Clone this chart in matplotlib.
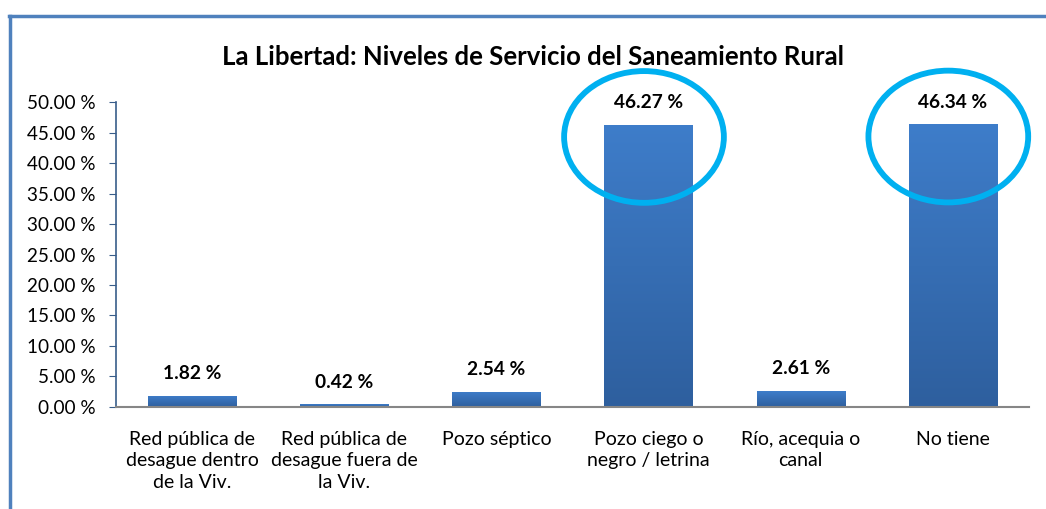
import numpy as np
import matplotlib
matplotlib.use("Agg")
import matplotlib.pyplot as plt
from matplotlib.patches import Ellipse
from matplotlib.lines import Line2D

plt.rcParams["font.family"] = ["Lato", "DejaVu Sans"]

title = "La Libertad: Niveles de Servicio del Saneamiento Rural"
categories = [
    "Red pública de\ndesague dentro\nde la Viv.",
    "Red pública de\ndesague fuera de\nla Viv.",
    "Pozo séptico",
    "Pozo ciego o\nnegro / letrina",
    "Río, acequia o\ncanal",
    "No tiene",
]
values = [1.82, 0.42, 2.54, 46.27, 2.61, 46.34]
highlighted = [3, 5]
yticks = np.arange(0, 50.1, 5)

fig = plt.figure(figsize=(10.46, 5.09), dpi=100)
ax = fig.add_axes([0.1109, 0.2004, 0.8728, 0.5992])

x = np.arange(len(categories))
bars = ax.bar(x, values, width=0.58, color="#3a76c4", zorder=2)

# vertical gradient inside each bar
grad = np.linspace(0, 1, 256).reshape(-1, 1)
cmap = matplotlib.colors.LinearSegmentedColormap.from_list("b", ["#2e5f9e", "#3e7dca"])
for b in bars:
    x0, w, h = b.get_x(), b.get_width(), b.get_height()
    im = ax.imshow(grad, extent=(x0, x0 + w, 0, h), origin="lower", cmap=cmap,
                   aspect="auto", zorder=2)
    im.set_clip_path(b)

for xi, v in zip(x, values):
    ax.annotate(f"{v:.2f} %", (xi, v), xytext=(0, 16), textcoords="offset points",
                ha="center", va="center", fontsize=13.8, fontweight="bold")

# highlight ellipses around the two largest bars
for i in highlighted:
    ax.add_patch(Ellipse((x[i] - 0.03, values[i] - 2.0), 1.05, 21.6, fill=False,
                         edgecolor="#00b0f0", linewidth=4.2, zorder=4, clip_on=False))

ax.set_xlim(-0.5, len(categories) - 0.5)
ax.set_ylim(0, 50)
ax.set_yticks(yticks)
ax.set_yticklabels([f"{t:.2f} %" for t in yticks], fontsize=13.6)
ax.set_xticks(x)
ax.set_xticklabels(categories, fontsize=14, linespacing=1.33)
ax.tick_params(axis="x", length=0, pad=17)
ax.tick_params(axis="y", length=5, direction="out", color="#385d8a", pad=10)

for s in ["top", "right"]:
    ax.spines[s].set_visible(False)
ax.spines["left"].set_color("#385d8a")
ax.spines["left"].set_linewidth(1.2)
ax.spines["bottom"].set_color("#868686")
ax.spines["bottom"].set_linewidth(1.5)

fig.text(0.51, 0.888, title, ha="center", va="center", fontsize=18.5, fontweight="bold")

# chart frame (top and left edge visible)
fig.add_artist(Line2D([0.009, 1.0], [0.969, 0.969], color="#4f81bd", linewidth=2.5))
fig.add_artist(Line2D([0.0095, 0.0095], [0.969, 0.0], color="#4f81bd", linewidth=2.5))

fig.savefig("out.png", dpi=100)
